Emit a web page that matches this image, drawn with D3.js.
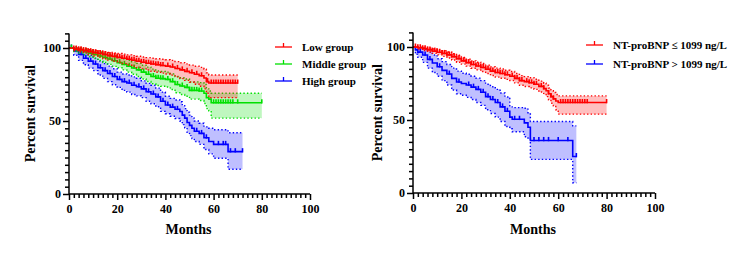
<!DOCTYPE html>
<html>
<head>
<meta charset="utf-8">
<script src="https://cdn.jsdelivr.net/npm/d3@7"></script>
<style>
  body { margin: 0; background: #fff; }
  svg { display: block; font-family: "Liberation Serif", "Times New Roman", serif; font-weight: bold; }
  .axis path, .axis line { stroke: #000; stroke-width: 1.5; }
  .axis text { font-family: "Liberation Serif", serif; font-weight: bold; font-size: 12px; fill: #000; }
</style>
</head>
<body>
<div id="chart"></div>
<script>
// Left panel: Low / Middle / High group (time, survival, lower CI, upper CI)
const lowT  = [0, 2, 4, 6, 8, 10, 12, 14, 16, 18, 20, 22, 24, 26, 28, 30, 32, 34, 36, 38, 40, 42, 44, 46, 48, 50, 52, 54, 56, 57, 58, 70];
const lowS  = [100, 99.3, 98.8, 98.2, 97.5, 96.8, 96.2, 95.5, 94.8, 94.2, 93.6, 93, 92.3, 91.6, 90.9, 90.2, 89.6, 89, 88.5, 88, 87.6, 87, 86, 85, 84, 83, 82, 81, 79.5, 77, 76, 76];
const lowLo = [100, 98.3, 97.4, 96.5, 95.5, 94.5, 93.6, 92.6, 91.7, 90.9, 90.1, 89.3, 88.4, 87.5, 86.6, 85.7, 84.9, 84.1, 83.4, 82.8, 82.2, 81.4, 80.2, 79, 77.8, 76.5, 75.2, 73.8, 72, 69, 66, 66];
const lowHi = [100, 100, 99.8, 99.4, 98.9, 98.4, 98, 97.5, 97, 96.6, 96.2, 95.8, 95.3, 94.8, 94.3, 93.8, 93.4, 93, 92.6, 92.3, 92, 91.5, 90.7, 89.9, 89.1, 88.3, 87.5, 86.7, 85.5, 83, 81.5, 81.5];
const lowCens = [2, 3, 4, 5, 6, 7, 8, 9, 10, 11, 12, 13, 14, 15, 16, 17, 18, 19, 20, 21, 22, 23, 24, 25, 26, 27, 28, 29, 30, 31, 32, 33, 34, 35, 36, 37, 38, 39, 41, 43, 45, 47, 49, 51, 53, 55, 57.5, 59, 60, 61, 62, 63, 64, 65, 66, 67, 68, 69, 70];

const midT  = [0, 2, 4, 6, 8, 10, 12, 14, 16, 18, 20, 22, 24, 26, 28, 30, 32, 34, 36, 38, 40, 42, 44, 46, 48, 50, 54, 56, 57, 58, 59, 80];
const midS  = [100, 99, 98.3, 97.5, 96.5, 95.6, 94.5, 93.5, 92.5, 91.3, 90, 88.8, 87.5, 86.3, 85, 83.5, 82, 80.5, 79.3, 79, 78.5, 77, 75, 74, 73, 71, 70.5, 69, 66, 65, 62.5, 62.5];
const midLo = [100, 97.6, 96.5, 95.3, 94, 92.8, 91.4, 90.1, 88.8, 87.4, 86.5, 85, 83.5, 82, 80.5, 78.8, 77.1, 75.5, 74.3, 73.8, 73.3, 71.6, 69.4, 68.2, 67, 65, 64, 62, 58.5, 57, 52, 52];
const midHi = [100, 100, 99.8, 99.3, 98.6, 97.9, 97.1, 96.4, 95.7, 94.8, 93.5, 92.6, 91.5, 90.5, 89.5, 88.2, 86.9, 85.5, 84.3, 84, 83.5, 82.3, 80.5, 79.6, 78.8, 76.8, 76.3, 75, 72, 70.5, 69, 69];
const midCens = [1, 3, 5, 7, 9, 11, 13, 15, 17, 19, 21, 23, 25, 27, 29, 31, 33, 35, 36, 37, 38, 39, 41, 43, 45, 47, 49, 50, 51, 52, 53, 54, 55, 60, 61, 62, 63, 64, 65, 66, 67, 68, 70, 80];

const highT  = [0, 2, 4, 6, 8, 10, 12, 14, 16, 18, 20, 22, 24, 26, 28, 30, 32, 34, 36, 38, 40, 42, 44, 46, 47, 48, 49, 50, 51, 52, 54, 56, 58, 60, 66, 72];
const highS  = [100, 98, 95.5, 93, 91, 89, 86.5, 84.5, 82.5, 80.5, 78.5, 77, 76, 74.5, 73.5, 72, 70, 68.5, 66.5, 63.5, 61, 59.5, 58, 56.5, 54, 52, 49, 47, 45, 43, 41.5, 38.5, 36, 34, 29, 29];
const highLo = [100, 95, 91.5, 88.5, 86.2, 84.5, 81.5, 79.2, 77, 74.8, 73, 71, 69.8, 68.2, 67.2, 66, 63.5, 61.8, 59.8, 56.6, 55, 53.3, 51.7, 50, 47.5, 45.3, 42.2, 40, 38, 36, 34, 30.5, 27.5, 24.5, 17, 17];
const highHi = [100, 100, 98.8, 96.8, 95, 93, 91, 89.3, 87.6, 85.8, 83.5, 82.2, 81.5, 80.2, 79.3, 77.5, 75.8, 74.5, 72.5, 69.8, 67, 65.5, 64.4, 63.2, 60.5, 58.5, 56, 54, 52, 50, 48.5, 46, 45, 44, 42, 42];
const highCens = [1, 3, 5, 7, 9, 11, 13, 15, 17, 19, 21, 23, 25, 27, 29, 31, 33, 35, 37, 39, 41, 43, 45, 53, 55, 57, 62, 64, 65, 67, 69, 72];

// Right panel: NT-proBNP <= 1099 / > 1099 ng/L
const ntLowT  = [0, 2, 4, 6, 8, 10, 12, 14, 16, 18, 20, 22, 24, 26, 28, 30, 32, 34, 36, 38, 40, 42, 44, 46, 48, 50, 52, 54, 55, 56, 57, 58, 59, 60, 80];
const ntLowS  = [100, 99.5, 98.8, 98, 97.2, 96.4, 95.6, 94.6, 93.3, 92, 90.5, 89.3, 88, 87, 86, 84.8, 83.5, 82.5, 81.8, 81, 80, 78.5, 77, 76.3, 75.5, 74.5, 73, 71.5, 70, 68, 66, 64.5, 63, 62, 62];
const ntLowLo = [100, 98.6, 97.6, 96.6, 95.6, 94.6, 93.6, 92.5, 91.1, 89.6, 88.3, 86.9, 85.4, 84.3, 83.2, 81.9, 80.5, 79.4, 78.6, 77.8, 77.1, 75.4, 73.8, 72.9, 72, 71, 69.2, 67.5, 66, 63.8, 61.5, 59.8, 57, 54, 54];
const ntLowHi = [100, 100, 99.7, 99.2, 98.6, 98, 97.4, 96.6, 95.4, 94.3, 92.8, 91.7, 90.5, 89.6, 88.7, 87.6, 86.4, 85.5, 84.9, 84.1, 83.2, 81.8, 80.4, 79.7, 78.9, 77.9, 76.6, 75.2, 73.8, 71.9, 70, 68.8, 67.5, 66.5, 66.5];
const ntLowCens = [1, 2, 3, 4, 5, 6, 7, 8, 9, 10, 11, 12, 13, 14, 15, 16, 17, 18, 19, 20, 21, 22, 23, 24, 25, 26, 27, 28, 29, 30, 31, 32, 33, 34, 35, 36, 37, 38, 39, 41, 42, 43, 44, 45, 47, 48, 49, 50, 51, 53, 54, 56, 57, 58, 61, 62, 63, 64, 65, 66, 67, 68, 69, 70, 71, 72, 80];

const ntHighT  = [0, 1, 2, 4, 6, 8, 10, 12, 14, 16, 18, 20, 22, 24, 26, 28, 30, 32, 34, 36, 38, 40, 41, 46, 47.5, 48.5, 66, 67.5];
const ntHighS  = [100, 98, 96.5, 94.5, 91.5, 89, 86.5, 84, 81.5, 78.5, 76, 75, 74, 72.5, 71, 69, 66, 64, 62, 59, 56, 52, 50.5, 48, 45, 36, 25, 25];
const ntHighLo = [100, 95, 93, 89.5, 85.5, 82.5, 80, 77, 74, 70.5, 68, 67, 65.5, 64, 62, 60, 57, 54.5, 52, 49, 45.5, 44, 42, 38.5, 37, 23, 7, 7];
const ntHighHi = [100, 100, 99.5, 98.5, 96.5, 94.5, 92, 90, 88, 85.5, 83.5, 82, 81.3, 80, 78.7, 77, 74.5, 72.8, 71, 68.5, 65.8, 59, 58.5, 58, 55, 49, 46, 46];
const ntHighCens = [3, 5, 7, 11, 15, 19, 23, 25, 27, 29, 31, 33, 35, 37, 39, 42, 44, 50, 52, 54, 56, 60, 64, 67.5];

const panels = [
  {
    x0: 69, x1: 310, y0: 194, titleX: 30, legendX: 275, legendY: [47, 64, 81],
    series: [
      { label: "High group", color: "#0000ff", t: highT, s: highS, lo: highLo, hi: highHi, cens: highCens },
      { label: "Middle group", color: "#00e000", t: midT, s: midS, lo: midLo, hi: midHi, cens: midCens },
      { label: "Low group", color: "#ff0000", t: lowT, s: lowS, lo: lowLo, hi: lowHi, cens: lowCens }
    ],
    legendOrder: [2, 1, 0]
  },
  {
    x0: 413, x1: 655, y0: 193, titleX: 377, legendX: 586, legendY: [45, 64],
    series: [
      { label: "NT-proBNP > 1099 ng/L", color: "#0000ff", t: ntHighT, s: ntHighS, lo: ntHighLo, hi: ntHighHi, cens: ntHighCens },
      { label: "NT-proBNP \u2264 1099 ng/L", color: "#ff0000", t: ntLowT, s: ntLowS, lo: ntLowLo, hi: ntLowHi, cens: ntLowCens }
    ],
    legendOrder: [1, 0]
  }
];

const svg = d3.select("#chart").append("svg")
  .attr("width", 750)
  .attr("height", 259);

function drawPanel(p) {
  const x = d3.scaleLinear().domain([0, 100]).range([p.x0, p.x1]);
  const y = d3.scaleLinear().domain([0, 110]).range([p.y0, p.y0 - 160.6]);
  const g = svg.append("g");

  // Confidence bands and curves
  p.series.forEach(s => {
    const rows = s.t.map((t, i) => ({ t, s: s.s[i], lo: s.lo[i], hi: s.hi[i] }));

    g.append("path")
      .attr("d", d3.area().curve(d3.curveStepAfter)
        .x(d => x(d.t)).y0(d => y(d.lo)).y1(d => y(d.hi))(rows))
      .attr("fill", s.color)
      .attr("fill-opacity", 0.25);

    ["lo", "hi"].forEach(k => {
      g.append("path")
        .attr("d", d3.line().curve(d3.curveStepAfter)
          .x(d => x(d.t)).y(d => y(d[k]))(rows))
        .attr("fill", "none")
        .attr("stroke", s.color)
        .attr("stroke-width", 1.4)
        .attr("stroke-dasharray", "1.4,2.2");
    });

    g.append("path")
      .attr("d", d3.line().curve(d3.curveStepAfter)
        .x(d => x(d.t)).y(d => y(d.s))(rows))
      .attr("fill", "none")
      .attr("stroke", s.color)
      .attr("stroke-width", 1.6);

    // Censor ticks
    const bis = d3.bisector(d => d.t).right;
    g.selectAll(null)
      .data(s.cens)
      .enter()
      .append("line")
      .attr("x1", d => x(d)).attr("x2", d => x(d))
      .attr("y1", d => y(rows[Math.max(0, bis(rows, d) - 1)].s) + 0.8)
      .attr("y2", d => y(rows[Math.max(0, bis(rows, d) - 1)].s) - 3.5)
      .attr("stroke", s.color)
      .attr("stroke-width", 1.6);
  });

  // Axes: majors plus minor ticks
  g.append("g")
    .attr("class", "axis")
    .attr("transform", `translate(0,${p.y0})`)
    .call(d3.axisBottom(x).tickValues(d3.range(0, 101, 2))
      .tickSize(4)
      .tickFormat(d => d % 20 === 0 ? d : ""))
    .call(a => a.selectAll(".tick line").attr("y2", d => d % 20 === 0 ? 6 : 4))
    .call(a => a.select(".domain").attr("d", `M${p.x0},0H${p.x1}`))
    .call(a => a.selectAll("text").attr("y", 10));

  g.append("g")
    .attr("class", "axis")
    .attr("transform", `translate(${p.x0},0)`)
    .call(d3.axisLeft(y).tickValues(d3.range(0, 111, 5))
      .tickSize(4)
      .tickFormat(d => d % 50 === 0 ? d : ""))
    .call(a => a.selectAll(".tick line").attr("x2", d => d % 50 === 0 ? -6 : -4))
    .call(a => a.select(".domain").attr("d", `M0,${y(110)}V${p.y0 + 1}`))
    .call(a => a.selectAll("text").attr("x", -8));

  // Axis titles
  g.append("text")
    .attr("x", (p.x0 + p.x1) / 2 - 1)
    .attr("y", 234)
    .attr("text-anchor", "middle")
    .style("font-size", "14px")
    .text("Months");

  g.append("text")
    .attr("transform", `translate(${p.titleX + 5},${y(55)}) rotate(-90)`)
    .attr("text-anchor", "middle")
    .style("font-size", "14px")
    .text("Percent survival");

  // Legend
  p.legendOrder.forEach((idx, i) => {
    const s = p.series[idx];
    const ly = p.legendY[i];
    g.append("line")
      .attr("x1", p.legendX).attr("x2", p.legendX + 17)
      .attr("y1", ly).attr("y2", ly)
      .attr("stroke", s.color).attr("stroke-width", 1.3);
    g.append("line")
      .attr("x1", p.legendX + 8.5).attr("x2", p.legendX + 8.5)
      .attr("y1", ly).attr("y2", ly - 4)
      .attr("stroke", s.color).attr("stroke-width", 1.3);
    g.append("text")
      .attr("x", p.legendX + 27)
      .attr("y", ly)
      .attr("dy", "0.35em")
      .style("font-size", "11px")
      .text(s.label);
  });
}

panels.forEach(drawPanel);
</script>
</body>
</html>
